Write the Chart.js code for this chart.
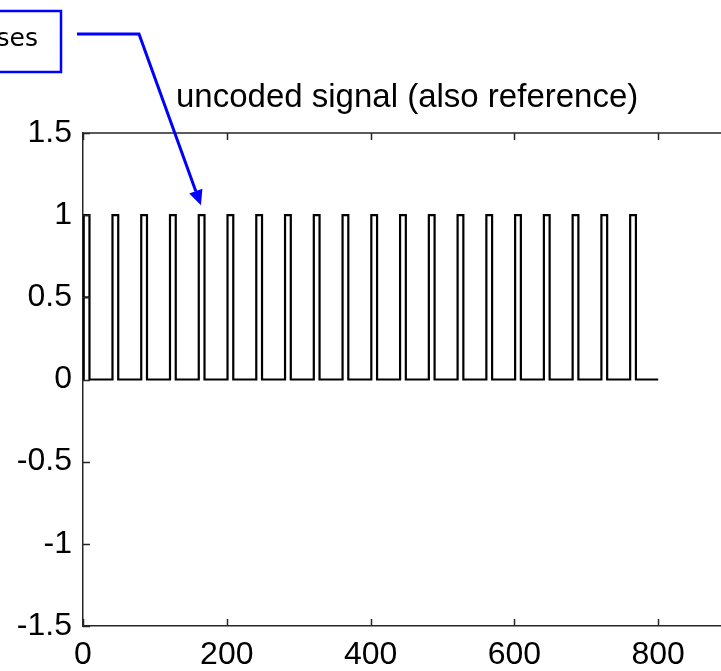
<!DOCTYPE html>
<html lang="en">
<head>
<meta charset="UTF-8">
<title>uncoded signal (also reference)</title>
<style>
  html, body { margin: 0; padding: 0; background: #fff; overflow: hidden; }
  #wrap { position: relative; width: 860px; height: 671px; }
</style>
</head>
<body>
<div id="wrap"><canvas id="signalChart" width="860" height="671"></canvas></div>

<script src="https://cdn.jsdelivr.net/npm/chart.js"></script>
<script>
// pulse train: sample where each pulse goes high, and how long it stays high
const pulseStarts = [1, 41, 81, 121, 161, 201, 241, 281, 321, 361,
                     401, 441, 481, 521, 561, 601, 641, 681, 721, 761];
const pulseWidth = 8;
const pulseHigh = 1;
const signalEnd = 800;

// short level mark at the start of the trace
const startMarkX = [0, 9];
const startMarkY = [0.5, 0.5];

const xTicks = [0, 200, 400, 600, 800, 1000];
const yTicks = [-1.5, -1, -0.5, 0, 0.5, 1, 1.5];

// where the "pulses" callout points (data units)
const calloutTarget = { x: 164, y: 1.06 };

const AXIS_COLOR = '#262626';
const LABEL_FONT = '"Liberation Sans", Arial, sans-serif';

function buildSignal() {
    const pts = [{ x: 0, y: 0 }];
    pulseStarts.forEach(s => {
        pts.push({ x: s, y: 0 });
        pts.push({ x: s, y: pulseHigh });
        pts.push({ x: s + pulseWidth, y: pulseHigh });
        pts.push({ x: s + pulseWidth, y: 0 });
    });
    pts.push({ x: signalEnd, y: 0 });
    return pts;
}

// axis box top edge, inward ticks, title and the callout
const decorations = {
    id: 'decorations',
    afterDraw(chart) {
        const ctx = chart.ctx;
        const a = chart.chartArea;
        const xs = chart.scales.x, ys = chart.scales.y;
        const tickLen = 7;

        ctx.save();
        ctx.strokeStyle = AXIS_COLOR;
        ctx.lineWidth = 1.5;
        ctx.beginPath();
        ctx.moveTo(a.left, a.top);
        ctx.lineTo(a.right, a.top);
        xTicks.forEach(v => {
            const px = Math.round(xs.getPixelForValue(v)) + 0.5;
            ctx.moveTo(px, a.bottom);
            ctx.lineTo(px, a.bottom - tickLen);
            ctx.moveTo(px, a.top);
            ctx.lineTo(px, a.top + tickLen);
        });
        yTicks.forEach(v => {
            const py = Math.round(ys.getPixelForValue(v)) + 0.5;
            ctx.moveTo(a.left, py);
            ctx.lineTo(a.left + tickLen, py);
        });
        ctx.stroke();

        // title
        ctx.fillStyle = '#000';
        ctx.font = '33px ' + LABEL_FONT;
        ctx.textAlign = 'left';
        ctx.textBaseline = 'alphabetic';
        ctx.fillText('uncoded signal (also reference)', 176, 107);

        // callout box
        ctx.strokeStyle = '#0000ff';
        ctx.lineWidth = 2.5;
        ctx.strokeRect(-20, 11, 81, 61);
        ctx.font = '25px "DejaVu Sans", Verdana, sans-serif';
        ctx.textAlign = 'right';
        ctx.fillText('pulses', 38, 46);

        // leader line with arrow head
        const tx = xs.getPixelForValue(calloutTarget.x);
        const ty = ys.getPixelForValue(calloutTarget.y);
        const bx = 139, by = 34;
        const dx = tx - bx, dy = ty - by;
        const len = Math.hypot(dx, dy);
        const ux = dx / len, uy = dy / len;
        const headLen = 15, headHalf = 7;
        const baseX = tx - ux * headLen, baseY = ty - uy * headLen;

        ctx.lineWidth = 3;
        ctx.beginPath();
        ctx.moveTo(77, by);
        ctx.lineTo(bx, by);
        ctx.lineTo(baseX, baseY);
        ctx.stroke();

        ctx.fillStyle = '#0000ff';
        ctx.beginPath();
        ctx.moveTo(tx, ty);
        ctx.lineTo(baseX - uy * headHalf, baseY + ux * headHalf);
        ctx.lineTo(baseX + uy * headHalf, baseY - ux * headHalf);
        ctx.closePath();
        ctx.fill();
        ctx.restore();
    }
};

const ctx = document.getElementById('signalChart').getContext('2d');
new Chart(ctx, {
    type: 'line',
    data: {
        datasets: [{
            label: 'uncoded signal',
            data: buildSignal(),
            borderColor: '#000',
            borderWidth: 2.2,
            pointRadius: 0,
            tension: 0,
            fill: false
        }, {
            label: 'start',
            data: startMarkX.map((x, i) => ({ x: x, y: startMarkY[i] })),
            borderColor: '#000',
            borderWidth: 2,
            pointRadius: 0,
            fill: false
        }]
    },
    options: {
        responsive: false,
        animation: false,
        layout: { padding: { top: 133, right: 58, bottom: 0, left: 0 } },
        plugins: {
            legend: { display: false },
            tooltip: { enabled: false }
        },
        scales: {
            x: {
                type: 'linear',
                min: 0,
                max: 1000,
                afterBuildTicks: s => { s.ticks = xTicks.map(v => ({ value: v })); },
                afterFit: s => { s.height = 45; },
                grid: { drawOnChartArea: false, drawTicks: false },
                border: { display: true, color: AXIS_COLOR, width: 1.5 },
                ticks: {
                    color: '#000',
                    font: { family: LABEL_FONT, size: 32 },
                    padding: 10,
                    maxRotation: 0,
                    autoSkip: false
                }
            },
            y: {
                min: -1.5,
                max: 1.5,
                afterBuildTicks: s => { s.ticks = yTicks.map(v => ({ value: v })); },
                afterFit: s => { s.width = 83; },
                grid: { drawOnChartArea: false, drawTicks: false },
                border: { display: true, color: AXIS_COLOR, width: 1.5 },
                ticks: {
                    color: '#000',
                    font: { family: LABEL_FONT, size: 32 },
                    padding: 11,
                    callback: v => String(v)
                }
            }
        }
    },
    plugins: [decorations]
});
</script>
</body>
</html>
